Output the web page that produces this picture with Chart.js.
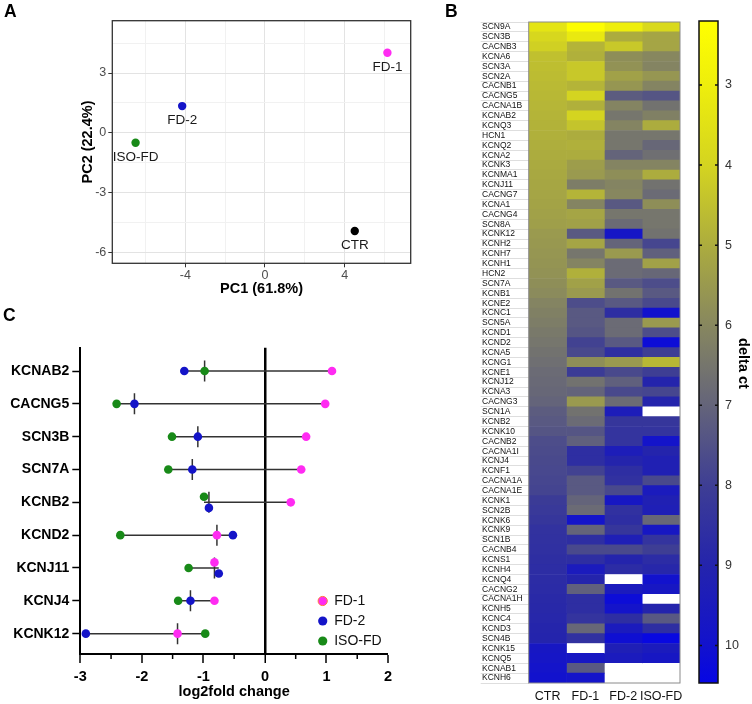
<!DOCTYPE html>
<html><head><meta charset="utf-8">
<script src="https://cdn.jsdelivr.net/npm/chart.js@4.4.1/dist/chart.umd.min.js"></script>
<style>
html,body{margin:0;padding:0;background:#fff;width:752px;height:704px;overflow:hidden;font-family:"Liberation Sans",Arial,sans-serif}
canvas{position:absolute}
.lab{position:absolute;font-weight:bold;font-size:17.5px;color:#000;line-height:1}
</style></head><body>
<canvas id="ca" width="420" height="300" style="left:0;top:0"></canvas>
<canvas id="cc" width="420" height="404" style="left:0;top:300px"></canvas>
<canvas id="cb" width="250" height="704" style="left:440px;top:0"></canvas>
<canvas id="ck" width="62" height="704" style="left:690px;top:0"></canvas>
<div class="lab" style="left:4px;top:3px">A</div>
<div class="lab" style="left:445px;top:3px">B</div>
<div class="lab" style="left:3px;top:307px">C</div>
<script>
// ---------------- DATA ----------------
// Panel A: PCA
const pcaLabels = ['FD-1', 'FD-2', 'ISO-FD', 'CTR'];
const pc1 = [6.15, -4.16, -6.5, 4.51];
const pc2 = [4.02, 1.34, -0.5, -4.94];

// Panel B: heatmap (delta ct), null = missing
const heatCols = ['CTR', 'FD-1', 'FD-2', 'ISO-FD'];
const heatGenes = ['SCN9A','SCN3B','CACNB3','KCNA6','SCN3A','SCN2A','CACNB1','CACNG5','CACNA1B','KCNAB2',
  'KCNQ3','HCN1','KCNQ2','KCNA2','KCNK3','KCNMA1','KCNJ11','CACNG7','KCNA1','CACNG4',
  'SCN8A','KCNK12','KCNH2','KCNH7','KCNH1','HCN2','SCN7A','KCNB1','KCNE2','KCNC1',
  'SCN5A','KCND1','KCND2','KCNA5','KCNG1','KCNE1','KCNJ12','KCNA3','CACNG3','SCN1A',
  'KCNB2','KCNK10','CACNB2','CACNA1I','KCNJ4','KCNF1','CACNA1A','CACNA1E','KCNK1','SCN2B',
  'KCNK6','KCNK9','SCN1B','CACNB4','KCNS1','KCNH4','KCNQ4','CACNG2','CACNA1H','KCNH5',
  'KCNC4','KCND3','SCN4B','KCNK15','KCNQ5','KCNAB1','KCNH6'];
const ctrVals = [3.4,3.9,4.1,4.5,4.55,4.6,4.65,4.7,4.75,4.8,
  4.85,4.9,4.95,5.0,5.05,5.1,5.15,5.2,5.25,5.3,
  5.35,5.5,5.55,5.6,5.65,5.7,5.8,5.9,6.1,6.2,
  6.3,6.4,6.5,6.6,6.7,6.8,6.85,6.9,7.0,7.2,
  7.3,7.4,7.6,7.65,7.7,7.75,7.8,7.85,8.1,8.2,
  8.3,8.45,8.5,8.55,8.6,8.65,8.7,8.75,8.8,8.85,
  8.9,8.95,9.0,9.7,9.8,9.9,10.0];
const fd1Vals = [2.3,3.2,4.8,4.9,4.3,4.3,4.8,4.0,4.9,4.0,
  4.4,5.0,4.9,5.0,5.4,5.5,6.3,4.8,6.1,5.2,
  5.3,7.3,5.2,6.5,6.1,4.9,5.3,5.5,7.6,7.3,
  7.3,7.4,7.9,7.7,5.8,8.1,6.6,7.0,5.5,6.6,
  6.8,7.4,7.1,8.6,8.6,7.9,7.3,7.3,7.0,6.8,
  9.9,7.0,8.6,7.7,8.6,9.5,9.0,7.1,8.6,8.6,
  8.4,6.9,8.5,null,9.7,7.3,9.9];
const fd2Vals = [3.0,5.0,4.3,5.8,5.7,5.3,5.6,7.2,6.1,6.5,
  6.1,6.5,6.5,7.0,6.1,5.8,6.1,6.0,7.3,6.5,
  6.8,9.8,7.0,5.5,6.8,6.8,7.3,6.6,7.3,8.6,
  6.8,6.8,7.3,8.6,5.5,7.7,7.1,7.7,6.8,9.4,
  8.3,8.4,8.4,9.4,9.0,8.6,8.5,7.7,9.7,8.5,
  8.6,8.3,9.3,7.7,9.0,8.7,null,9.5,10.2,9.9,
  8.6,9.5,10.1,9.3,9.5,null,null];
const isoVals = [3.8,5.2,5.2,6.0,6.1,5.6,6.1,7.4,6.6,6.2,
  5.0,6.5,6.9,6.7,6.1,5.0,6.6,6.8,5.8,6.5,
  6.5,6.6,7.8,7.1,5.3,6.9,7.6,7.3,7.7,10.0,
  5.5,7.6,10.2,8.0,4.7,8.0,9.0,7.8,9.0,null,
  8.3,8.4,9.9,9.0,9.2,9.2,7.7,9.5,9.2,9.3,
  6.9,9.7,8.4,8.0,8.7,8.9,10.0,9.7,null,9.0,
  7.3,8.6,10.4,9.5,9.7,null,null];
const colorbarRange = [2.2, 10.47];
const colorbarTicks = [3, 4, 5, 6, 7, 8, 9, 10];

// Panel C: log2 fold change
const foldGenes = ['KCNAB2','CACNG5','SCN3B','SCN7A','KCNB2','KCND2','KCNJ11','KCNJ4','KCNK12'];
const foldFD1 = [1.09, 0.98, 0.67, 0.59, 0.42, -0.78, -0.82, -0.82, -1.42];
const foldFD2 = [-1.31, -2.12, -1.09, -1.18, -0.91, -0.52, -0.75, -1.21, -2.91];
const foldISO = [-0.98, -2.41, -1.51, -1.57, -0.99, -2.35, -1.24, -1.41, -0.97];

// ---------------- STYLE ----------------
const FONT = '"Liberation Sans", Arial, sans-serif';
const NARROW = '"Liberation Sans Narrow", "Liberation Sans", Arial, sans-serif';
Chart.defaults.font.family = FONT;
const C_FD1 = '#ff2bf2', C_FD2 = '#1414c8', C_ISO = '#188a18', C_CTR = '#000000';
const pcaColors = [C_FD1, C_FD2, C_ISO, C_CTR];
const COLOR_STOPS = [[2.2,[255,255,0]],[3,[238,238,12]],[4,[212,212,32]],[5,[172,172,62]],[6,[135,135,95]],
  [7,[100,100,122]],[8,[62,62,148]],[9,[36,36,172]],[10,[18,18,205]],[10.5,[5,5,230]]];
function colorAt(v){
  if (v === null || v === undefined) return '#ffffff';
  const s = COLOR_STOPS;
  if (v <= s[0][0]) return 'rgb(' + s[0][1].join(',') + ')';
  for (let i = 1; i < s.length; i++) {
    if (v <= s[i][0]) {
      const t = (v - s[i-1][0]) / (s[i][0] - s[i-1][0]);
      const c = s[i-1][1].map((a, k) => Math.round(a + (s[i][1][k] - a) * t));
      return 'rgb(' + c.join(',') + ')';
    }
  }
  return 'rgb(' + s[s.length-1][1].join(',') + ')';
}
function frame(color, width){
  return {id: 'frame', afterDraw(chart){
    const a = chart.chartArea, ctx = chart.ctx;
    ctx.save(); ctx.strokeStyle = color; ctx.lineWidth = width;
    ctx.strokeRect(a.left, a.top, a.right - a.left, a.bottom - a.top);
    ctx.restore();
  }};
}
const noLegend = {legend: {display: false}, tooltip: {enabled: false}};

// ---------------- PANEL A ----------------
const pcaText = {id: 'pcaText', afterDatasetsDraw(chart){
  const ctx = chart.ctx, meta = chart.getDatasetMeta(0);
  ctx.save(); ctx.font = '13.5px ' + FONT; ctx.fillStyle = '#1a1a1a';
  ctx.textAlign = 'center'; ctx.textBaseline = 'middle';
  meta.data.forEach((p, i) => ctx.fillText(pcaLabels[i], p.x, p.y + 14.5));
  ctx.restore();
}};
const isMajor = (v, m) => Math.abs(v / m - Math.round(v / m)) < 1e-6;
new Chart(document.getElementById('ca'), {
  type: 'scatter',
  data: {datasets: [{data: pc1.map((x, i) => ({x: x, y: pc2[i]})),
    pointBackgroundColor: pcaColors, pointBorderWidth: 0, pointRadius: 4.2}]},
  options: {
    responsive: false, animation: false,
    layout: {padding: {left: 76, top: 20.7, right: 9.3, bottom: 0}},
    plugins: noLegend,
    scales: {
      x: {type: 'linear', min: -7.67, max: 7.32, afterFit(s){ s.height = 36.7; },
        ticks: {stepSize: 2, includeBounds: false, autoSkip: false, maxRotation: 0, padding: 1,
          color: '#4d4d4d', font: {family: NARROW, size: 12.5},
          callback: v => isMajor(v, 4) ? String(v) : ''},
        grid: {color: c => (c.tick && isMajor(c.tick.value, 4)) ? '#e3e3e3' : '#f1f1f1',
          tickColor: c => (c.tick && isMajor(c.tick.value, 4)) ? '#333' : 'rgba(0,0,0,0)', tickLength: 4},
        border: {display: false},
        title: {display: true, text: 'PC1 (61.8%)', color: '#000', font: {size: 14.5, weight: 'bold'}, padding: {top: 0, bottom: 2}}},
      y: {type: 'linear', min: -6.56, max: 5.63, afterFit(s){ s.width = 36.3; },
        ticks: {stepSize: 1.5, includeBounds: false, autoSkip: false, padding: 2,
          color: '#4d4d4d', font: {family: NARROW, size: 12.5},
          callback: v => isMajor(v, 3) ? String(v) : ''},
        grid: {color: c => (c.tick && isMajor(c.tick.value, 3)) ? '#e3e3e3' : '#f1f1f1',
          tickColor: c => (c.tick && isMajor(c.tick.value, 3)) ? '#333' : 'rgba(0,0,0,0)', tickLength: 4},
        border: {display: false},
        title: {display: true, text: 'PC2 (22.4%)', color: '#000', font: {size: 14.5, weight: 'bold'}, padding: {top: 3.6, bottom: 0}}}
    }
  },
  plugins: [pcaText, frame('#333', 1.3)]
});

// ---------------- PANEL B: heatmap ----------------
const heatSeries = [ctrVals, fd1Vals, fd2Vals, isoVals];
new Chart(document.getElementById('cb'), {
  type: 'bar',
  data: {labels: heatGenes, datasets: heatCols.map((c, k) => ({
    label: c, data: heatGenes.map(() => 1), backgroundColor: heatSeries[k].map(colorAt),
    borderWidth: 0, categoryPercentage: 1, barPercentage: 1, xAxisID: 'x', yAxisID: 'y'}))},
  options: {
    indexAxis: 'y', responsive: false, animation: false,
    layout: {padding: {left: 42, top: 22, right: 10, bottom: 0}},
    plugins: noLegend,
    scales: {
      x: {type: 'linear', stacked: true, min: 0, max: 4, display: false},
      xl: {type: 'category', axis: 'x', labels: heatCols, position: 'bottom', offset: true,
        afterFit(s){ s.height = 21; },
        grid: {display: false, drawTicks: false}, border: {display: false},
        ticks: {padding: 6, color: '#111', font: {size: 12.5}, maxRotation: 0, minRotation: 0, autoSkip: false}},
      y: {type: 'category', stacked: true, afterFit(s){ s.width = 46.7; },
        ticks: {crossAlign: 'far', autoSkip: false, padding: 0, color: '#111', font: {size: 8.5}},
        grid: {offset: true, drawOnChartArea: false, tickLength: 48, tickColor: '#dedede', tickWidth: 1},
        border: {display: false}}
    }
  },
  plugins: [frame('#8a8a8a', 1)]
});

// ---------------- PANEL B: colour bar ----------------
const barDecor = {id: 'barDecor', afterDraw(chart){
  const ctx = chart.ctx, a = chart.chartArea, ys = chart.scales.y;
  ctx.save(); ctx.strokeStyle = '#111'; ctx.lineWidth = 1.5;
  ys.ticks.forEach(t => {
    const py = ys.getPixelForValue(t.value);
    ctx.beginPath(); ctx.moveTo(a.left, py); ctx.lineTo(a.left + 3, py);
    ctx.moveTo(a.right - 3, py); ctx.lineTo(a.right, py); ctx.stroke();
  });
  ctx.strokeRect(a.left, a.top, a.right - a.left, a.bottom - a.top);
  ctx.translate(53.3, 363.5); ctx.rotate(Math.PI / 2);
  ctx.fillStyle = '#000'; ctx.font = 'bold 14.5px ' + FONT;
  ctx.textAlign = 'center'; ctx.textBaseline = 'middle';
  ctx.fillText('delta ct', 0, 0);
  ctx.restore();
}};
new Chart(document.getElementById('ck'), {
  type: 'bar',
  data: {labels: [''], datasets: [{data: [colorbarRange], borderWidth: 0,
    categoryPercentage: 1, barPercentage: 1,
    backgroundColor: (ctx) => {
      const chart = ctx.chart; if (!chart.chartArea) return '#888';
      const ys = chart.scales.y, s = COLOR_STOPS;
      const y0 = ys.getPixelForValue(s[0][0]), y1 = ys.getPixelForValue(s[s.length-1][0]);
      const g = chart.ctx.createLinearGradient(0, y0, 0, y1);
      s.forEach(([v]) => g.addColorStop((v - s[0][0]) / (s[s.length-1][0] - s[0][0]), colorAt(v)));
      return g;
    }}]},
  options: {
    responsive: false, animation: false,
    layout: {padding: {left: 9, top: 21, right: 0, bottom: 21}},
    plugins: noLegend,
    scales: {
      x: {display: false},
      y: {position: 'right', reverse: true, min: colorbarRange[0], max: colorbarRange[1],
        afterFit(s){ s.width = 34; },
        afterBuildTicks(s){ s.ticks = colorbarTicks.map(v => ({value: v})); },
        ticks: {padding: 7, color: '#333', font: {size: 12.5}},
        grid: {display: false, drawTicks: false}, border: {display: false}}
    }
  },
  plugins: [barDecor]
});

// ---------------- PANEL C ----------------
const cSeries = [{label: 'FD-1', vals: foldFD1, color: C_FD1},
                 {label: 'FD-2', vals: foldFD2, color: C_FD2},
                 {label: 'ISO-FD', vals: foldISO, color: C_ISO}];
// nudge overlapping points vertically (as the plotting software does)
const nudges = cSeries.map(() => foldGenes.map(() => 0));
foldGenes.forEach((g, i) => {
  for (let a = 0; a < cSeries.length; a++) for (let b = a + 1; b < cSeries.length; b++) {
    const va = cSeries[a].vals[i], vb = cSeries[b].vals[i];
    if (Math.abs(va - vb) < 0.12) {
      nudges[a][i] = va < vb ? -0.17 : 0.17;
      nudges[b][i] = vb < va ? -0.17 : 0.17;
    }
  }
});
const cDatasets = [];
foldGenes.forEach((g, i) => {
  const v = cSeries.map(s => s.vals[i]).sort((p, q) => p - q);
  cDatasets.push({type: 'scatter', showLine: true, data: [{x: v[0], y: i}, {x: v[2], y: i}],
    borderColor: '#333', borderWidth: 1.5, pointRadius: 0, order: 3, aux: true});
  cDatasets.push({type: 'scatter', showLine: true, data: [{x: v[1], y: i - 0.32}, {x: v[1], y: i + 0.32}],
    borderColor: '#333', borderWidth: 1.5, pointRadius: 0, order: 3, aux: true});
});
cSeries.forEach((s, k) => cDatasets.push({type: 'scatter', label: s.label,
  data: s.vals.map((x, i) => ({x: x, y: i + nudges[k][i]})),
  pointBackgroundColor: s.color, pointBorderWidth: 0, pointRadius: 4.3, order: 1}));

const cDecor = {id: 'cDecor', afterDraw(chart){
  const ctx = chart.ctx, xs = chart.scales.x, a = chart.chartArea;
  ctx.save(); ctx.strokeStyle = '#000'; ctx.lineWidth = 1.5;
  xs.ticks.forEach(t => {
    if (!isMajor(t.value, 1)) {
      const px = xs.getPixelForValue(t.value);
      ctx.beginPath(); ctx.moveTo(px, a.bottom); ctx.lineTo(px, a.bottom + 5); ctx.stroke();
    }
  });
  // legend
  const items = chart.data.datasets.filter(d => !d.aux);
  ctx.font = '14px ' + FONT; ctx.textBaseline = 'middle'; ctx.textAlign = 'left';
  items.forEach((d, j) => {
    const cx = a.right - 65.3, cy = a.bottom - 53 + j * 20;
    ctx.beginPath(); ctx.arc(cx, cy, 4.6, 0, Math.PI * 2);
    ctx.fillStyle = d.pointBackgroundColor; ctx.fill();
    if (j === 0) { ctx.strokeStyle = '#ff7a3a'; ctx.lineWidth = 1; ctx.stroke(); }
    ctx.fillStyle = '#111'; ctx.fillText(d.label, cx + 11.5, cy);
  });
  ctx.restore();
}};
new Chart(document.getElementById('cc'), {
  type: 'scatter',
  data: {datasets: cDatasets},
  options: {
    responsive: false, animation: false,
    layout: {padding: {left: 0, top: 47.7, right: 32, bottom: 0}},
    plugins: noLegend,
    scales: {
      x: {type: 'linear', min: -3, max: 2, afterFit(s){ s.height = 50; },
        ticks: {stepSize: 0.5, autoSkip: false, maxRotation: 0, padding: 5, color: '#000',
          font: {size: 14.5, weight: 'bold'}, callback: v => isMajor(v, 1) ? String(v) : ''},
        grid: {color: c => (c.tick && c.tick.value === 0) ? '#000' : 'rgba(0,0,0,0)',
          lineWidth: c => (c.tick && c.tick.value === 0) ? 2.5 : 0,
          tickColor: c => (c.tick && isMajor(c.tick.value, 1)) ? '#000' : 'rgba(0,0,0,0)',
          tickLength: 9, tickWidth: 1.5},
        border: {display: true, color: '#000', width: 2},
        title: {display: true, text: 'log2fold change', color: '#000', font: {size: 14.5, weight: 'bold'}, padding: {top: 0, bottom: 3}}},
      y: {type: 'linear', reverse: true, min: -0.71, max: 8.62, afterFit(s){ s.width = 80.3; },
        ticks: {stepSize: 1, includeBounds: false, autoSkip: false, padding: 3, color: '#000',
          font: {size: 14, weight: 'bold'}, callback: v => foldGenes[v] !== undefined ? foldGenes[v] : ''},
        grid: {drawOnChartArea: false, tickLength: 8, tickColor: '#000', tickWidth: 1.5},
        border: {display: true, color: '#000', width: 2}}
    }
  },
  plugins: [cDecor]
});
</script>
</body></html>
